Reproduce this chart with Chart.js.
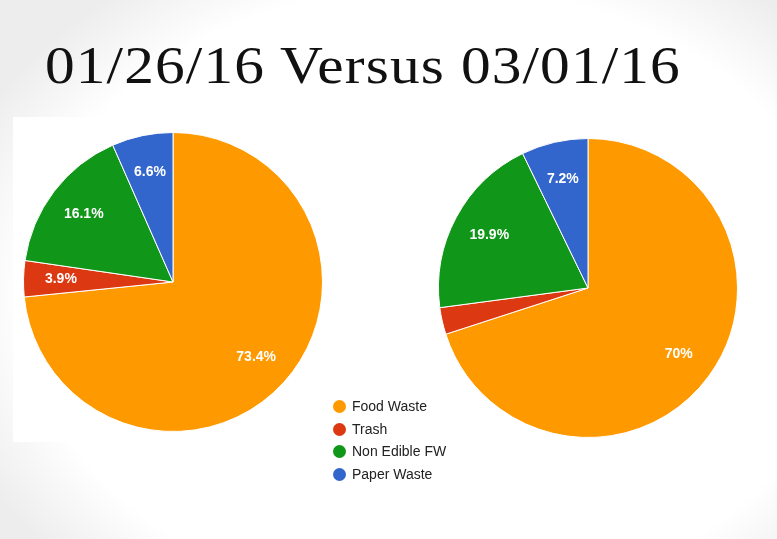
<!DOCTYPE html>
<html>
<head>
<meta charset="utf-8">
<script src="https://cdn.jsdelivr.net/npm/chart.js@4.4.1/dist/chart.umd.min.js"></script>
<style>
  html, body { margin: 0; padding: 0; }
  body {
    width: 777px; height: 539px; overflow: hidden; position: relative;
    background: radial-gradient(ellipse 66% 72% at 56% 55%, #ffffff 80%, #ededed 100%);
  }
  #title {
    position: absolute; left: 45px; top: 39px;
    font-family: "Liberation Serif", "Times New Roman", serif;
    font-size: 53px; line-height: 1; color: #111; white-space: nowrap;
    letter-spacing: 1px;
    transform: scaleX(1.12); transform-origin: left top;
  }
  #panel { position: absolute; left: 13px; top: 117px; width: 322px; height: 325px; background: #fff; }
  .pie { position: absolute; width: 300px; height: 300px; }
  #pieA { left: 23px; top: 132px; }
  #pieB { left: 438px; top: 138px; }
  #legend {
    position: absolute; left: 333px; top: 396px;
    font-family: "Liberation Sans", Arial, sans-serif; font-size: 14px; color: #222;
  }
  #legend div { height: 22.6px; line-height: 20px; white-space: nowrap; }
  #legend span.dot {
    display: inline-block; width: 13px; height: 13px; border-radius: 50%;
    vertical-align: -2px; margin-right: 6px;
  }
</style>
</head>
<body>
<div id="title">01/26/16 Versus 03/01/16</div>
<div id="panel"></div>
<div class="pie" id="pieA"><canvas id="chartA"></canvas></div>
<div class="pie" id="pieB"><canvas id="chartB"></canvas></div>
<div id="legend"></div>
<script>
// categories and the two measurement days
const categories = ['Food Waste', 'Trash', 'Non Edible FW', 'Paper Waste'];
const jan26Values = [73.4, 3.9, 16.1, 6.6];
const mar01Values = [70, 2.9, 19.9, 7.2];
const sliceColors = ['#FF9900', '#DC3912', '#109618', '#3366CC'];

// white percentage text inside each slice (small slices get no label)
const sliceLabels = {
  id: 'sliceLabels',
  afterDatasetsDraw(chart) {
    const ctx = chart.ctx;
    const meta = chart.getDatasetMeta(0);
    const data = chart.data.datasets[0].data;
    ctx.save();
    ctx.fillStyle = '#fff';
    ctx.font = 'bold 14px "Liberation Sans", Arial, sans-serif';
    ctx.textAlign = 'center';
    ctx.textBaseline = 'middle';
    meta.data.forEach((arc, i) => {
      if (data[i] < 3) return;
      const p = arc.getProps(['x', 'y', 'startAngle', 'endAngle', 'outerRadius'], true);
      const mid = (p.startAngle + p.endAngle) / 2;
      const r = p.outerRadius * 0.75;
      ctx.fillText(data[i] + '%', p.x + Math.cos(mid) * r, p.y + Math.sin(mid) * r);
    });
    ctx.restore();
  }
};

function makePie(id, values) {
  return new Chart(document.getElementById(id), {
    type: 'pie',
    data: {
      labels: categories,
      datasets: [{
        data: values,
        backgroundColor: sliceColors,
        borderColor: '#fff',
        borderWidth: 1,
        hoverOffset: 0
      }]
    },
    options: {
      responsive: true,
      maintainAspectRatio: false,
      animation: false,
      layout: { padding: 0 },
      plugins: {
        legend: { display: false },
        tooltip: { enabled: false }
      }
    },
    plugins: [sliceLabels]
  });
}

makePie('chartA', jan26Values);
makePie('chartB', mar01Values);

// legend shared by both pies
const legend = document.getElementById('legend');
categories.forEach((name, i) => {
  const row = document.createElement('div');
  row.innerHTML = '<span class="dot" style="background:' + sliceColors[i] + '"></span>' + name;
  legend.appendChild(row);
});
</script>
</body>
</html>
